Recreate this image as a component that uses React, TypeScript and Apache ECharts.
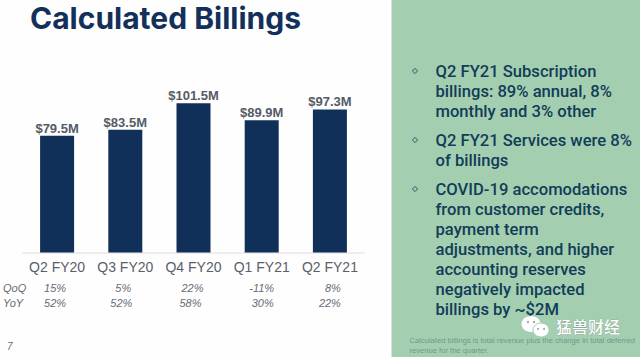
import React, { useEffect, useRef } from "react";
import * as echarts from "echarts";

const title = "Calculated Billings";
const quarters = ["Q2 FY20", "Q3 FY20", "Q4 FY20", "Q1 FY21", "Q2 FY21"];
const billings = [79.5, 83.5, 101.5, 89.9, 97.3];
const qoq = ["15%", "5%", "22%", "-11%", "8%"];
const yoy = ["52%", "52%", "58%", "30%", "22%"];
const qoqShift = [-2, -2, -1, 0, 3];
const yoyShift = [-2, -4, -3, 1, 0];
const bullets = [
  { y: 61, lines: ["Q2 FY21 Subscription", "billings: 89% annual, 8%", "monthly and 3% other"] },
  { y: 130, lines: ["Q2 FY21 Services were 8%", "of billings"] },
  {
    y: 179,
    lines: [
      "COVID-19 accomodations",
      "from customer credits,",
      "payment term",
      "adjustments, and higher",
      "accounting reserves",
      "negatively impacted",
      "billings by ~$2M",
    ],
  },
];
const footnote = "Calculated billings is total revenue plus the change in total deferred\nrevenue for the quarter.";
const watermark = "猛兽财经";
const pageNumber = "7";

const NAVY = "#102f59";
const GRID = { left: 23, width: 341, top: 32, height: 220.5 };
const sans = "'Liberation Sans', Arial, sans-serif";

function rowTexts(values: string[], shifts: number[], y: number) {
  const step = GRID.width / values.length;
  return values.map((v, i) => ({
    type: "text",
    x: GRID.left + step * (i + 0.5) + shifts[i],
    y,
    style: { text: v, font: `italic 11px ${sans}`, fill: "#666b74", align: "center", verticalAlign: "middle" },
  }));
}

export default function App() {
  const ref = useRef<HTMLDivElement>(null);
  useEffect(() => {
    document.body.style.margin = "0";
    const chart = echarts.init(ref.current!, null, { renderer: "svg" });
    const bulletEls: any[] = [];
    bullets.forEach((b) => {
      const cy = b.y + 10;
      bulletEls.push({
        type: "polygon",
        shape: { points: [[415, cy - 2.6], [417.6, cy], [415, cy + 2.6], [412.4, cy]] },
        style: { fill: "none", stroke: "#1f4a5e", lineWidth: 0.9 },
      });
      bulletEls.push({
        type: "text",
        x: 435.5,
        y: b.y,
        style: {
          text: b.lines.join("\n"),
          font: "500 16.6px Roboto, sans-serif",
          lineHeight: 20.1,
          fill: "#123c58",
          align: "left",
          verticalAlign: "top",
        },
      });
    });
    chart.setOption({
      animation: false,
      backgroundColor: "#fefefe",
      grid: { ...GRID },
      xAxis: {
        type: "category",
        data: quarters,
        axisLine: { lineStyle: { color: "#e8e8e8", width: 1.5 } },
        axisTick: { show: false },
        axisLabel: { color: "#5a606a", fontFamily: sans, fontSize: 14, margin: 7, interval: 0 },
      },
      yAxis: { type: "value", min: 0, max: 150, show: false, splitLine: { show: false } },
      series: [
        {
          type: "bar",
          data: billings,
          barWidth: 34,
          itemStyle: { color: NAVY },
          label: {
            show: true,
            position: "top",
            distance: 1,
            formatter: (p: any) => `$${p.value.toFixed(1)}M`,
            color: "#555b66",
            fontFamily: sans,
            fontWeight: "bold",
            fontSize: 13,
          },
        },
      ],
      graphic: [
        { type: "rect", shape: { x: 391.5, y: 0, width: 248.5, height: 357 }, style: { fill: "#a3cfb0" } },
        {
          type: "text",
          x: 30,
          y: 18,
          style: {
            text: title,
            font: "700 30px Inter, sans-serif",
            fill: "#12305a",
            align: "left",
            verticalAlign: "middle",
          },
        },
        { type: "text", x: 3, y: 288, style: { text: "QoQ", font: `italic 11px ${sans}`, fill: "#666b74", verticalAlign: "middle" } },
        { type: "text", x: 3, y: 302.5, style: { text: "YoY", font: `italic 11px ${sans}`, fill: "#666b74", verticalAlign: "middle" } },
        ...rowTexts(qoq, qoqShift, 288),
        ...rowTexts(yoy, yoyShift, 302.5),
        { type: "text", x: 7, y: 346, style: { text: pageNumber, font: `italic 10px ${sans}`, fill: "#666b74", verticalAlign: "middle" } },
        ...bulletEls,
        {
          type: "text",
          x: 409.5,
          y: 336,
          style: { text: footnote, font: `7.6px ${sans}`, lineHeight: 9.5, fill: "#6d9a8c", verticalAlign: "top" },
        },
        { type: "ellipse", shape: { cx: 531, cy: 324, rx: 9.5, ry: 8 }, style: { fill: "#ffffff" } },
        { type: "ellipse", shape: { cx: 541, cy: 330, rx: 8, ry: 7 }, style: { fill: "#ffffff", stroke: "#a3cfb0", lineWidth: 1 } },
        { type: "circle", shape: { cx: 528, cy: 322, r: 1.2 }, style: { fill: "#9aa8a0" } },
        { type: "circle", shape: { cx: 534, cy: 322, r: 1.2 }, style: { fill: "#9aa8a0" } },
        { type: "circle", shape: { cx: 538, cy: 329, r: 1 }, style: { fill: "#9aa8a0" } },
        { type: "circle", shape: { cx: 544, cy: 329, r: 1 }, style: { fill: "#9aa8a0" } },
        {
          type: "text",
          x: 556,
          y: 326,
          style: {
            text: watermark,
            font: "500 16px 'Noto Sans CJK SC', sans-serif",
            fill: "#ffffff",
            stroke: "#7f8f88",
            lineWidth: 0.5,
            verticalAlign: "middle",
          },
        },
      ],
    });
    return () => chart.dispose();
  }, []);
  return <div ref={ref} style={{ width: 640, height: 357, position: "absolute", left: 0, top: 0 }} />;
}
